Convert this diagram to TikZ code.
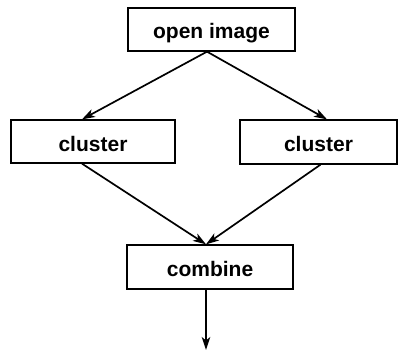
\documentclass[tikz,border=0pt]{standalone}
\usepackage{fontspec}
\setmainfont{Liberation Sans}
\usetikzlibrary{arrows.meta}
\begin{document}
\begin{tikzpicture}[x=1pt,y=-1pt,
  box/.style={draw,line width=1.3pt,inner sep=0pt,text height=19pt,text depth=0pt,font=\fontsize{21}{24}\selectfont\bfseries},
  arr/.style={line width=1.7pt,-{Stealth[length=13pt,width=8.5pt,inset=3.5pt]}}]
\useasboundingbox (0,0) rectangle (398,350);
\node[box,minimum width=167pt,minimum height=43pt] (top) at (211.5,29.5) {open image};
\node[box,minimum width=164pt,minimum height=43pt] (l) at (93,141.5) {cluster};
\node[box,minimum width=157pt,minimum height=44pt] (r) at (318.5,142) {cluster};
\node[box,minimum width=166pt,minimum height=44pt] (c) at (210,267) {combine};
\coordinate (end) at (206,350);
\draw[arr] ([xshift=-4.5pt]top.south) -- ([xshift=-11pt]l.north);
\draw[arr] ([xshift=-4.5pt]top.south) -- ([xshift=8.5pt]r.north);
\draw[arr] ([xshift=-11pt]l.south) -- ([xshift=-4pt]c.north);
\draw[arr] ([xshift=2pt]r.south) -- ([xshift=-4pt]c.north);
\draw[arr] ([xshift=-4pt]c.south) -- (end);
\end{tikzpicture}
\end{document}
